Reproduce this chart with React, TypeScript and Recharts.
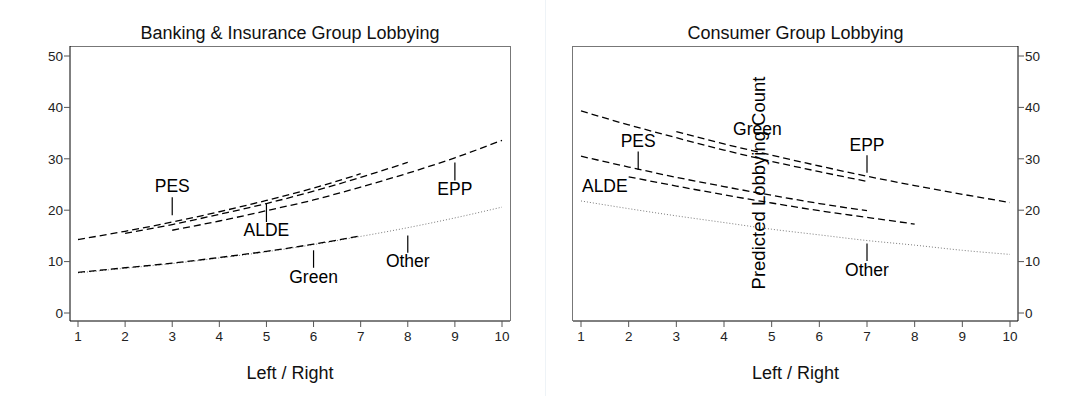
import React from 'react';
import { LineChart, Line, XAxis, YAxis, ReferenceLine, ReferenceDot } from 'recharts';

// Left / Right placement of the party (x axis)
const leftRight = [1, 2, 3, 4, 5, 6, 7, 8, 9, 10];
const yTicks = [0, 10, 20, 30, 40, 50];

// Banking & Insurance group lobbying, predicted counts
const bankPES = [14.3, 15.9, 17.7, 19.7, 21.9, 24.3, 27.1, null, null, null];
const bankALDE = [null, 15.5, 17.2, 19.2, 21.3, 23.7, 26.4, 29.3, null, null];
const bankEPP = [null, null, 16.1, 17.9, 19.9, 22.0, 24.5, 27.2, 30.2, 33.6];
const bankGreen = [7.9, 8.8, 9.7, 10.8, 12.0, 13.4, 15.0, null, null, null];
const bankOther = [7.8, 8.7, 9.6, 10.7, 11.9, 13.3, 14.9, 16.6, 18.5, 20.6];

// Consumer group lobbying, predicted counts
const consPES = [30.5, 28.4, 26.4, 24.6, 22.9, 21.3, 19.9, null, null, null];
const consALDE = [null, 26.5, 24.7, 23.0, 21.4, 19.9, 18.6, 17.3, null, null];
const consEPP = [null, null, 35.3, 32.9, 30.7, 28.6, 26.6, 24.8, 23.1, 21.5];
const consGreen = [39.3, 36.6, 34.1, 31.7, 29.5, 27.5, 25.6, null, null, null];
const consOther = [21.8, 20.3, 18.9, 17.6, 16.3, 15.2, 14.1, 13.2, 12.2, 11.4];

// party labels: text anchor and little pointer line (data coords)
const bankLabels = [
  { name: 'PES', x: 3, y: 24.7, tick: [19.0, 22.5] },
  { name: 'ALDE', x: 5, y: 16.1, tick: [17.7, 21.2] },
  { name: 'Green', x: 6, y: 7.0, tick: [8.8, 12.2] },
  { name: 'Other', x: 8, y: 10.1, tick: [11.7, 15.1] },
  { name: 'EPP', x: 9, y: 24.2, tick: [25.8, 29.3] },
];
const consLabels = [
  { name: 'PES', x: 2.2, y: 33.6, tick: [27.8, 31.4] },
  { name: 'ALDE', x: 1.5, y: 24.7, tick: null },
  { name: 'Green', x: 4.7, y: 35.9, tick: null },
  { name: 'EPP', x: 7, y: 32.8, tick: [27.3, 30.7] },
  { name: 'Other', x: 7, y: 8.4, tick: [10.1, 13.5] },
];

const build = (pes, alde, epp, green, other) =>
  leftRight.map((x, i) => ({ x, pes: pes[i], alde: alde[i], epp: epp[i], green: green[i], other: other[i] }));

const bankData = build(bankPES, bankALDE, bankEPP, bankGreen, bankOther);
const consData = build(consPES, consALDE, consEPP, consGreen, consOther);

const FONT = '"Liberation Sans", Arial, Helvetica, sans-serif';
const dash = '7 4';

function series() {
  return [
    <Line key="other" dataKey="other" stroke="#7a7a7a" strokeWidth={1} strokeDasharray="1 2" dot={false} type="monotone" isAnimationActive={false} />,
    <Line key="green" dataKey="green" stroke="#000" strokeWidth={1.3} strokeDasharray={dash} dot={false} type="monotone" isAnimationActive={false} />,
    <Line key="pes" dataKey="pes" stroke="#000" strokeWidth={1.3} strokeDasharray={dash} dot={false} type="monotone" isAnimationActive={false} />,
    <Line key="alde" dataKey="alde" stroke="#000" strokeWidth={1.3} strokeDasharray={dash} dot={false} type="monotone" isAnimationActive={false} />,
    <Line key="epp" dataKey="epp" stroke="#000" strokeWidth={1.3} strokeDasharray={dash} dot={false} type="monotone" isAnimationActive={false} />,
  ];
}

function annotations(labels) {
  const out = [];
  labels.forEach((l) => {
    if (l.tick) {
      out.push(
        <ReferenceLine key={l.name + '-t'} segment={[{ x: l.x, y: l.tick[0] }, { x: l.x, y: l.tick[1] }]} stroke="#000" strokeWidth={1.2} />
      );
    }
    out.push(
      <ReferenceDot key={l.name} x={l.x} y={l.y} r={0} fill="none" stroke="none"
        label={{ value: l.name, position: 'center', fontSize: 17.5, fill: '#000', fontFamily: FONT }} />
    );
  });
  return out;
}

const tickStyle = { fill: '#222', fontSize: 13.5, fontFamily: FONT };
const axisLabel = { value: 'Left / Right', position: 'insideBottom', offset: 17, fontSize: 18, fill: '#111', fontFamily: FONT };

function Title({ text, left, width }) {
  return (
    <div style={{ position: 'absolute', top: 22, left, width, textAlign: 'center', fontSize: 18, lineHeight: '22px', color: '#111', fontFamily: FONT }}>
      {text}
    </div>
  );
}

// light frame edges (top + far side) behind the plot
function Frame({ left, width, side }) {
  const s: any = { position: 'absolute', left, top: 46, width, height: 275, boxSizing: 'border-box', borderTop: '1px solid #777' };
  if (side === 'right') s.borderRight = '1px solid #777';
  else s.borderLeft = '1px solid #777';
  return <div style={s} />;
}

export default function App() {
  return (
    <div style={{ position: 'absolute', left: 0, top: 0, width: 1085, height: 396, background: '#fff', fontFamily: FONT }}>
      <div style={{ position: 'absolute', left: 545, top: 0, width: 1, height: 396, background: '#eef3f7' }} />

      <Title text="Banking & Insurance Group Lobbying" left={70} width={440} />
      <Frame left={70} width={441} side="right" />
      <div style={{ position: 'absolute', left: 0, top: 0 }}>
        <LineChart width={545} height={396} data={bankData} margin={{ top: 46, right: 35, bottom: 0, left: 0 }}>
          <XAxis dataKey="x" type="number" domain={[1, 10]} ticks={leftRight} interval={0} padding={{ left: 8, right: 8 }}
            height={75} tickSize={6} tickMargin={4} tick={tickStyle} stroke="#000" tickLine={{ stroke: '#555' }}
            label={axisLabel} />
          <YAxis type="number" domain={[0, 50]} ticks={yTicks} padding={{ top: 10, bottom: 8 }} width={70}
            tickSize={6} tickMargin={1} tick={tickStyle} stroke="#000" tickLine={{ stroke: '#555' }} />
          {series()}
          {annotations(bankLabels)}
        </LineChart>
      </div>

      <Title text="Consumer Group Lobbying" left={573} width={445} />
      <Frame left={572} width={446} side="left" />
      <div style={{ position: 'absolute', left: 545, top: 0 }}>
        <LineChart width={540} height={396} data={consData} margin={{ top: 46, right: 0, bottom: 0, left: 28 }}>
          <XAxis dataKey="x" type="number" domain={[1, 10]} ticks={leftRight} interval={0} padding={{ left: 8, right: 8 }}
            height={75} tickSize={6} tickMargin={4} tick={tickStyle} stroke="#000" tickLine={{ stroke: '#555' }}
            label={axisLabel} />
          <YAxis orientation="right" type="number" domain={[0, 50]} ticks={yTicks} padding={{ top: 10, bottom: 8 }} width={67}
            tickSize={6} tickMargin={1} tick={tickStyle} stroke="#000" tickLine={{ stroke: '#555' }} />
          {series()}
          {annotations(consLabels)}
          <ReferenceDot x={4.72} y={25.3} r={0} fill="none" stroke="none"
            label={{ value: 'Predicted Lobbying Count', position: 'center', angle: -90, fontSize: 18.5, fill: '#000', fontFamily: FONT }} />
        </LineChart>
      </div>
    </div>
  );
}
